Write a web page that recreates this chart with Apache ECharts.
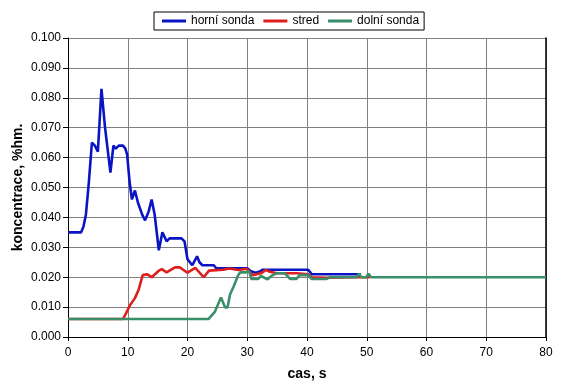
<!DOCTYPE html>
<html>
<head>
<meta charset="utf-8">
<script src="https://cdn.jsdelivr.net/npm/echarts@6/dist/echarts.min.js"></script>
<style>html,body{margin:0;padding:0;background:#fff}#c{width:566px;height:386px}</style>
</head>
<body>
<div id="c"></div>
<script>
var seriesNames = ['horní sonda', 'stred', 'dolní sonda'];
var xTicks = [0, 10, 20, 30, 40, 50, 60, 70, 80];
var yTicks = [0, 0.01, 0.02, 0.03, 0.04, 0.05, 0.06, 0.07, 0.08, 0.09, 0.1];

var tHorni = [0, 2.2, 2.6, 3.0, 3.5, 4.0, 4.5, 5.0, 5.6, 6.2, 7.1, 7.6, 8.0, 8.5, 9.2, 9.6, 9.9, 10.3, 10.7, 11.2, 11.7, 12.4, 12.9, 13.5, 14.0, 14.5, 15.2, 15.8, 16.5, 17.0, 19.0, 19.5, 20.0, 20.8, 21.6, 22.0, 22.5, 24.4, 24.8, 28.5, 30.0, 30.6, 31.4, 32.2, 32.6, 40.2, 40.8, 49.0];
var vHorni = [0.035, 0.035, 0.037, 0.041, 0.052, 0.065, 0.064, 0.062, 0.083, 0.070, 0.055, 0.064, 0.063, 0.064, 0.064, 0.063, 0.061, 0.052, 0.046, 0.049, 0.045, 0.041, 0.039, 0.042, 0.046, 0.041, 0.029, 0.035, 0.032, 0.033, 0.033, 0.032, 0.026, 0.024, 0.027, 0.025, 0.024, 0.024, 0.023, 0.023, 0.023, 0.022, 0.0215, 0.022, 0.0225, 0.0225, 0.021, 0.021];

var tStred = [0, 9.2, 9.6, 10.4, 11.2, 11.8, 12.5, 13.2, 14.0, 15.1, 15.7, 16.5, 17.9, 18.7, 20.0, 21.3, 22.7, 23.6, 26.0, 27.0, 28.5, 29.9, 30.9, 32.3, 33.1, 33.8, 35.0, 38.3, 40.2, 40.8, 43.3, 48.5, 50.5];
var vStred = [0.006, 0.006, 0.0075, 0.0107, 0.013, 0.0157, 0.0207, 0.021, 0.020, 0.022, 0.0227, 0.0216, 0.0233, 0.0233, 0.0215, 0.0231, 0.020, 0.0222, 0.0225, 0.0229, 0.0224, 0.0228, 0.0207, 0.0213, 0.0224, 0.0218, 0.0213, 0.0213, 0.021, 0.020, 0.0198, 0.020, 0.020];

var tDolni = [0, 9.3, 9.6, 9.9, 23.5, 24.6, 25.6, 26.3, 26.7, 27.1, 27.7, 28.5, 28.8, 29.8, 30.3, 30.7, 31.8, 32.3, 33.4, 34.1, 34.9, 36.3, 37.2, 38.2, 38.8, 40.2, 40.8, 43.3, 43.8, 48.3, 48.7, 49.1, 49.9, 50.3, 50.7, 80];
var vDolni = [0.006, 0.006, 0.0066, 0.006, 0.006, 0.0085, 0.0132, 0.0099, 0.0099, 0.0141, 0.0168, 0.0207, 0.0216, 0.0216, 0.022, 0.0194, 0.0194, 0.0204, 0.0193, 0.0205, 0.0213, 0.0213, 0.0194, 0.0194, 0.0207, 0.0207, 0.0194, 0.0194, 0.020, 0.020, 0.0212, 0.020, 0.020, 0.0212, 0.020, 0.020];

function pairs(t, v) { return t.map(function (x, i) { return [x, v[i]]; }); }

var colors = ['#0a14c4', '#de1f1f', '#3a8f6a'];
var font = '"Liberation Sans", Arial, sans-serif';

var chart = echarts.init(document.getElementById('c'), null, { renderer: 'canvas' });
chart.setOption({
  animation: false,
  backgroundColor: '#ffffff',
  textStyle: { fontFamily: font },
  color: colors,
  legend: {
    data: seriesNames,
    left: 154,
    top: 12,
    orient: 'horizontal',
    icon: 'rect',
    itemWidth: 24,
    itemHeight: 3,
    itemGap: 9,
    padding: [3, 5, 3, 8],
    borderColor: '#000',
    borderWidth: 1,
    textStyle: { fontSize: 12, color: '#000', fontFamily: font }
  },
  grid: { left: 68, right: 20, top: 38, bottom: 47, containLabel: false },
  xAxis: {
    type: 'value',
    min: xTicks[0],
    max: xTicks[xTicks.length - 1],
    interval: 10,
    name: 'cas, s',
    nameLocation: 'middle',
    nameGap: 30,
    nameMoveOverlap: false,
    nameTextStyle: { fontSize: 14, fontWeight: 'bold', color: '#000', fontFamily: font },
    axisLine: { lineStyle: { color: '#000', width: 1 } },
    axisTick: { show: true, inside: false, length: 4, lineStyle: { color: '#000' } },
    axisLabel: { fontSize: 12, color: '#000', margin: 10, fontFamily: font },
    splitLine: { show: true, lineStyle: { color: '#808080', width: 1 } }
  },
  yAxis: [{
    type: 'value',
    min: yTicks[0],
    max: yTicks[yTicks.length - 1],
    interval: 0.01,
    name: 'koncentrace, %hm.',
    nameLocation: 'middle',
    nameGap: 43,
    nameMoveOverlap: false,
    nameTextStyle: { fontSize: 14, fontWeight: 'bold', color: '#000', fontFamily: font },
    axisLine: { show: true, lineStyle: { color: '#000', width: 1 } },
    axisTick: { show: true, inside: false, length: 5, lineStyle: { color: '#000' } },
    axisLabel: { fontSize: 12, color: '#000', margin: 7, fontFamily: font,
      formatter: function (v) { return v.toFixed(3); } },
    splitLine: { show: true, lineStyle: { color: '#808080', width: 1 } }
  }, {
    type: 'value',
    position: 'right',
    min: yTicks[0],
    max: yTicks[yTicks.length - 1],
    interval: 0.01,
    axisLine: { show: true, lineStyle: { color: '#000', width: 1.5 } },
    axisTick: { show: false },
    axisLabel: { show: false },
    splitLine: { show: false }
  }],
  series: [
    { name: seriesNames[0], type: 'line', data: pairs(tHorni, vHorni), showSymbol: false, symbol: 'none',
      lineStyle: { width: 2.6, color: colors[0] }, z: 2 },
    { name: seriesNames[1], type: 'line', data: pairs(tStred, vStred), showSymbol: false, symbol: 'none',
      lineStyle: { width: 2.6, color: colors[1] }, z: 3 },
    { name: seriesNames[2], type: 'line', data: pairs(tDolni, vDolni), showSymbol: false, symbol: 'none',
      lineStyle: { width: 2.6, color: colors[2] }, z: 4 }
  ]
});
</script>
</body>
</html>
